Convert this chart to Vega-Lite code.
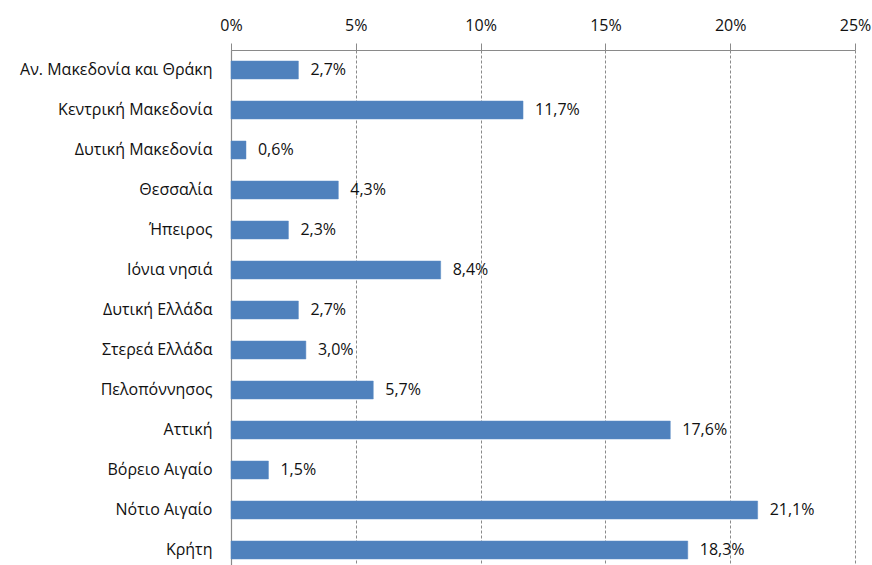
{
  "$schema": "https://vega.github.io/schema/vega-lite/v6.json",
  "width": 624,
  "height": 520,
  "autosize": {"type": "none"},
  "padding": {"left": 231, "top": 50, "right": 17, "bottom": 0},
  "background": "white",
  "config": {
    "view": {"stroke": null},
    "locale": {"number": {"decimal": ",", "thousands": ".", "grouping": [3], "currency": ["", " €"]}},
    "font": "Open Sans"
  },
  "data": {
    "values": [
      {"region": "Αν. Μακεδονία  και Θράκη", "value": 0.027},
      {"region": "Κεντρική  Μακεδονία", "value": 0.117},
      {"region": "Δυτική Μακεδονία", "value": 0.006},
      {"region": "Θεσσαλία", "value": 0.043},
      {"region": "Ήπειρος", "value": 0.023},
      {"region": "Ιόνια νησιά", "value": 0.084},
      {"region": "Δυτική Ελλάδα", "value": 0.027},
      {"region": "Στερεά Ελλάδα", "value": 0.030},
      {"region": "Πελοπόννησος", "value": 0.057},
      {"region": "Αττική", "value": 0.176},
      {"region": "Βόρειο Αιγαίο", "value": 0.015},
      {"region": "Νότιο Αιγαίο", "value": 0.211},
      {"region": "Κρήτη", "value": 0.183}
    ]
  },
  "encoding": {
    "y": {
      "field": "region", "type": "nominal", "sort": null,
      "scale": {"paddingInner": 0.55, "paddingOuter": 0.275},
      "axis": {
        "title": null, "ticks": false, "labelFontSize": 16, "labelColor": "#111", "labelLimit": 400,
        "labelPadding": 19, "domainColor": "#8a8a8a", "domainWidth": 1.2, "labelFont": "Open Sans"
      }
    },
    "x": {
      "field": "value", "type": "quantitative",
      "scale": {"domain": [0, 0.25], "nice": false},
      "axis": {
        "orient": "top", "title": null, "format": ".0%", "values": [0, 0.05, 0.1, 0.15, 0.2, 0.25],
        "labelFontSize": 16, "labelColor": "#111", "tickSize": 7, "tickColor": "#8a8a8a",
        "labelFlush": false, "labelOverlap": false,
        "domainColor": "#8a8a8a", "domainWidth": 1.2, "labelPadding": 10,
        "grid": true, "gridColor": "#8a8a8a", "gridDash": [3, 2], "gridWidth": 1
      }
    }
  },
  "layer": [
    {"mark": {"type": "bar", "color": "#4F81BD", "stroke": "#5b8ac4", "strokeWidth": 0.5}},
    {
      "mark": {"type": "text", "align": "left", "dx": 12, "fontSize": 16, "color": "#111", "font": "Open Sans"},
      "encoding": {"text": {"field": "value", "type": "quantitative", "format": ".1%"}}
    }
  ]
}
